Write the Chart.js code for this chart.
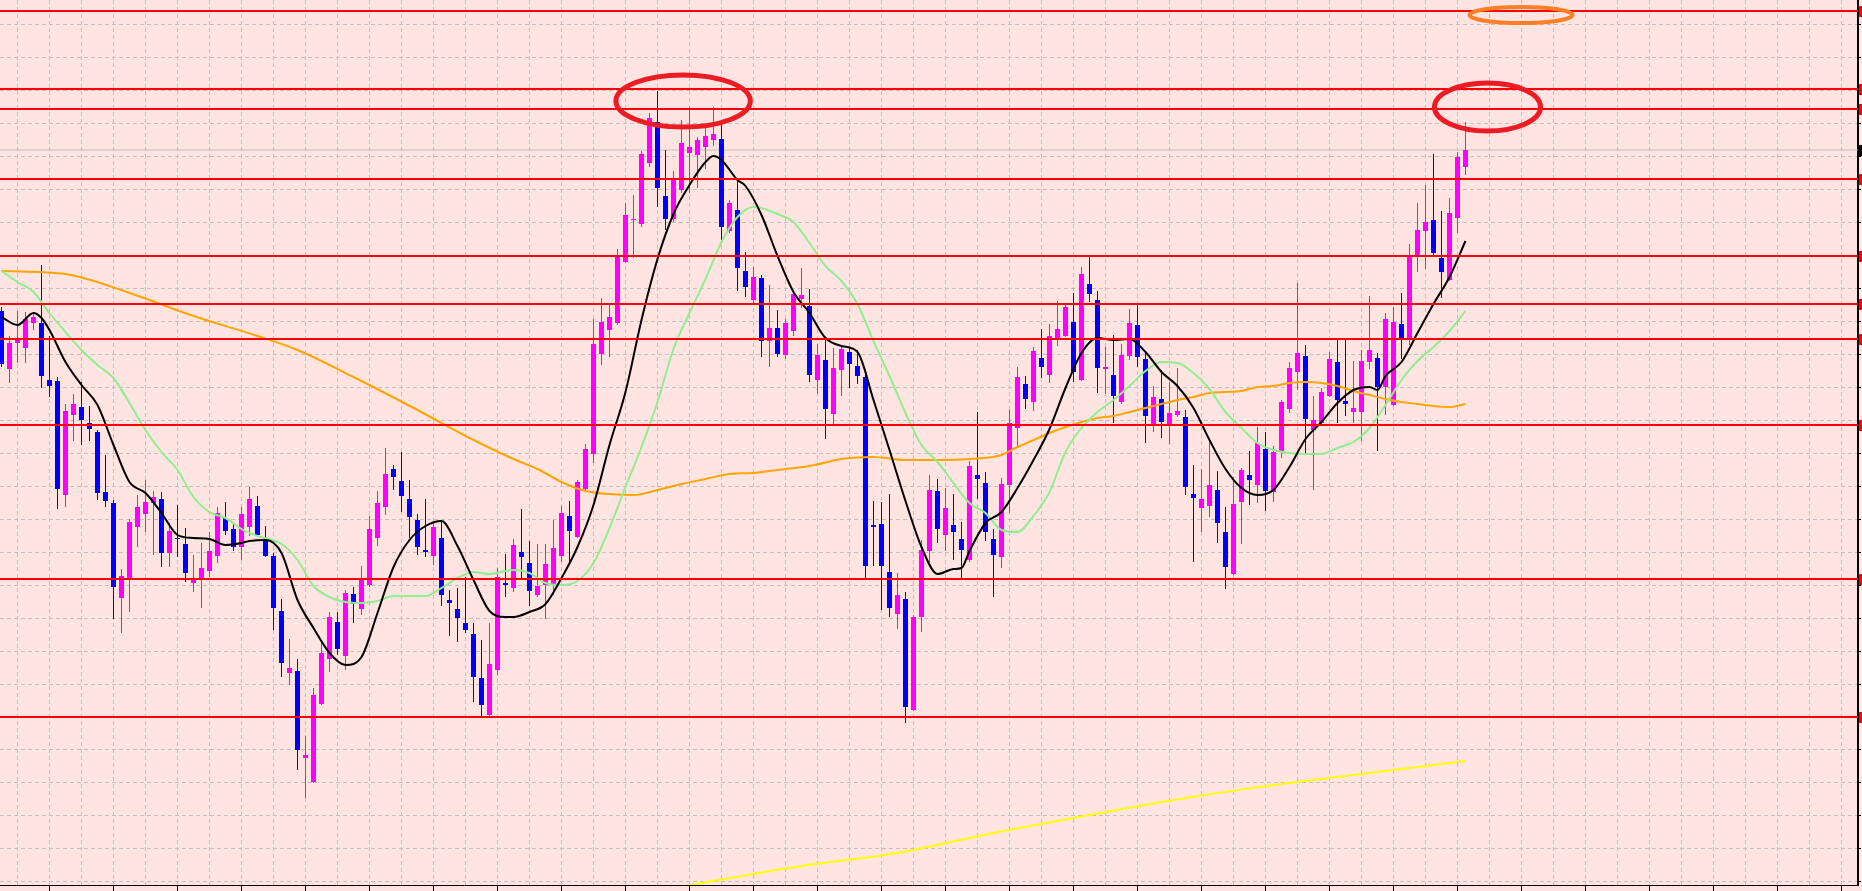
<!DOCTYPE html>
<html>
<head>
<meta charset="utf-8">
<script src="https://cdn.jsdelivr.net/npm/chart.js@4.4.1/dist/chart.umd.min.js"></script>
<style>
  html, body { margin: 0; padding: 0; background: #ffe4e1; overflow: hidden; }
  canvas { display: block; }
</style>
</head>
<body>
<canvas id="priceChart" width="1862" height="891"></canvas>
<script>
// candles, one per bar (index 0 = leftmost)
const openP = [
  156.89,156.31,156.57,156.52,156.77,156.77,156.20,156.19,155.05,155.85,
  155.93,155.77,155.68,155.08,154.97,154.02,154.21,154.73,154.86,154.97,
  155.01,154.47,154.62,154.56,154.17,154.21,154.29,154.44,154.82,154.71,
  154.53,154.73,154.94,154.60,154.44,153.89,153.27,153.29,152.42,152.18,
  152.96,153.41,153.78,153.44,154.06,153.91,154.15,154.62,154.93,155.31,
  155.19,155.01,154.80,154.50,154.44,154.62,154.00,153.91,153.77,153.66,
  153.22,152.85,153.30,154.17,154.12,154.48,154.37,154.05,154.15,154.15,
  154.44,154.84,154.63,155.11,155.46,156.46,156.70,156.77,157.38,157.80,
  157.76,158.37,158.78,158.04,157.81,158.10,158.47,158.45,158.53,158.60,
  158.61,157.69,157.90,157.29,157.00,157.22,156.59,156.72,156.45,156.69,
  157.01,156.94,156.20,156.40,155.86,156.30,156.48,156.34,156.23,154.75,
  154.76,154.28,153.86,154.01,152.90,153.83,154.49,155.09,154.65,154.75,
  154.61,154.40,155.25,155.17,154.61,154.43,155.15,155.72,156.16,155.98,
  156.42,156.25,156.62,156.64,156.78,156.20,157.16,157.00,156.31,156.25,
  155.98,156.44,156.75,156.41,155.75,156.01,155.75,155.85,155.83,155.06,
  154.92,154.94,155.10,154.68,154.26,154.98,155.25,155.15,155.51,155.08,
  155.49,155.91,156.28,156.44,155.70,155.77,156.04,156.38,155.99,155.88,
  155.88,156.38,156.42,156.13,155.95,156.76,156.60,157.44,157.69,157.80,
  157.42,157.20,157.82,158.33
];
const highP = [
  156.93,156.64,156.89,156.88,156.87,157.35,156.64,156.23,155.96,156.06,
  156.18,155.94,155.70,155.45,155.00,154.31,154.81,155.05,155.20,155.09,
  155.08,154.77,154.95,154.72,154.45,154.57,154.68,154.93,154.98,154.77,
  154.93,155.13,155.04,154.74,154.47,154.01,153.61,153.41,152.64,153.12,
  153.60,153.88,153.88,154.10,154.13,154.34,154.84,155.09,155.52,155.35,
  155.48,155.20,154.86,155.01,154.77,154.79,154.10,154.12,154.23,153.77,
  153.60,153.77,154.32,154.46,154.61,154.91,154.59,154.56,154.56,154.80,
  154.94,154.99,155.20,155.56,156.81,157.02,156.95,157.51,157.97,158.05,
  158.49,158.87,159.09,158.50,158.29,158.80,158.93,158.63,158.72,158.93,
  158.75,158.00,158.20,157.48,157.33,157.25,157.15,156.90,156.81,157.08,
  157.32,157.11,156.56,156.60,156.52,156.53,156.53,156.50,156.31,154.99,
  154.98,155.06,154.27,154.08,153.85,154.60,155.25,155.21,155.12,155.06,
  154.78,155.39,155.88,155.28,154.71,155.22,155.90,156.33,156.24,156.53,
  156.71,156.76,156.99,156.97,157.07,157.33,157.43,157.09,156.53,156.65,
  156.56,156.91,156.97,156.47,156.14,156.30,156.18,156.32,155.90,155.35,
  155.31,155.60,155.29,154.93,155.23,155.32,155.49,155.73,155.68,155.54,
  156.00,156.38,157.17,156.55,156.04,156.12,156.48,156.61,156.61,156.39,
  156.50,157.04,156.47,156.87,156.93,157.07,157.56,157.97,158.15,158.46,
  157.89,158.02,158.48,158.78
];
const lowP = [
  156.33,156.17,156.37,156.37,156.70,156.12,156.03,154.91,154.93,155.59,
  155.55,155.59,155.00,154.93,153.81,153.67,153.88,154.53,154.68,154.45,
  154.33,154.33,154.43,154.18,154.08,153.92,154.23,154.37,154.65,154.49,
  154.40,154.64,154.63,154.43,153.70,153.23,153.15,152.30,152.02,152.17,
  152.95,153.28,153.45,153.30,153.77,153.85,154.13,154.54,154.85,155.10,
  154.88,154.62,154.45,154.43,154.35,153.94,153.64,153.58,153.67,152.98,
  152.83,152.83,153.25,154.03,154.08,154.21,153.94,154.03,153.81,154.05,
  154.38,154.38,154.62,155.08,155.37,156.35,156.43,156.75,157.37,157.42,
  157.73,158.33,157.93,157.70,157.78,158.07,158.07,158.12,158.31,158.54,
  157.60,157.67,157.09,157.03,156.96,156.43,156.33,156.43,156.41,156.64,
  156.92,156.18,156.06,155.61,155.75,156.04,156.12,156.16,154.21,154.34,
  153.90,153.83,153.71,152.77,152.89,153.68,154.38,154.57,154.49,154.40,
  154.21,154.38,155.01,154.59,154.03,154.32,154.87,155.53,155.91,155.89,
  156.22,156.17,156.54,156.63,156.18,156.19,156.98,156.07,156.06,155.77,
  155.96,156.40,156.33,155.57,155.68,155.62,155.56,155.83,155.05,154.38,
  154.68,154.83,154.57,154.11,154.25,154.56,154.95,154.97,154.89,154.98,
  155.42,155.87,156.10,155.47,155.10,155.75,156.03,155.77,155.84,155.77,
  155.59,156.31,155.49,155.85,155.94,156.41,156.55,157.28,157.31,157.43,
  157.02,157.19,157.67,158.25
];
const closeP = [
  156.36,156.57,156.61,156.81,156.83,156.24,156.14,155.11,155.89,155.96,
  155.80,155.71,155.07,154.99,154.13,154.24,154.78,154.93,154.98,155.03,
  154.47,154.69,154.61,154.27,154.22,154.32,154.49,154.87,154.69,154.53,
  154.86,155.01,154.65,154.44,153.92,153.37,153.32,152.50,152.45,153.05,
  153.47,153.83,153.51,154.07,153.96,154.20,154.71,154.97,155.26,155.23,
  155.04,154.83,154.53,154.48,154.73,154.05,153.97,153.82,153.70,153.23,
  152.95,153.36,154.23,154.15,154.55,154.43,154.09,154.14,154.36,154.52,
  154.87,154.69,155.18,155.51,156.56,156.78,156.83,157.43,157.85,157.81,
  158.46,158.82,158.12,157.81,158.20,158.57,158.53,158.60,158.64,158.66,
  157.73,157.97,157.32,157.13,157.23,156.59,156.72,156.46,156.77,157.06,
  157.05,156.25,156.45,155.91,156.32,156.51,156.36,156.24,154.34,154.73,
  154.34,153.92,154.05,152.93,153.83,154.50,155.10,154.71,154.92,154.68,
  154.50,155.34,155.21,154.68,154.45,155.16,155.77,156.23,156.01,156.49,
  156.33,156.64,156.71,156.93,156.28,157.26,157.06,156.32,156.33,156.04,
  156.45,156.77,156.43,155.84,156.03,155.78,155.87,155.89,155.13,155.02,
  155.01,155.15,154.77,154.33,154.96,155.30,155.20,155.57,155.09,155.48,
  155.98,156.32,156.47,155.81,155.80,156.08,156.41,156.00,155.96,155.92,
  156.39,156.50,156.13,156.81,156.78,156.62,157.43,157.70,157.78,157.47,
  157.28,157.87,158.43,158.50
];

// moving averages, read at the bars listed in the *At arrays
const fastAt = [0,2,4,5,6,8,10,12,14,16,18,20,22,24,26,28,30,31,33,35,37,39,41,43,45,47,49,51,53,55,57,59,61,63,64,66,68,70,72,74,76,78,80,82,84,86,88,89,90,92,93,95,97,99,101,103,105,107,109,111,113,115,117,119,120,121,123,125,127,129,131,133,135,137,139,141,143,145,147,149,151,153,155,157,159,161,163,165,167,169,171,172,173,175,177,179,181,183];
const fastMa = [156.83,156.75,156.87,156.82,156.70,156.38,156.15,155.95,155.55,155.18,155.07,154.87,154.65,154.62,154.61,154.55,154.57,154.59,154.60,154.47,154.00,153.72,153.47,153.35,153.43,153.87,154.33,154.60,154.74,154.79,154.54,154.20,153.89,153.83,153.83,153.88,153.96,154.22,154.53,154.95,155.55,156.08,156.80,157.41,157.86,158.15,158.38,158.44,158.40,158.20,158.14,157.85,157.44,157.08,156.87,156.62,156.54,156.48,156.00,155.50,154.99,154.53,154.26,154.31,154.32,154.49,154.77,154.88,155.12,155.40,155.71,156.12,156.47,156.62,156.60,156.61,156.48,156.28,156.14,155.92,155.60,155.31,155.12,155.05,155.10,155.33,155.61,155.78,155.97,156.10,156.13,156.10,156.24,156.38,156.67,156.96,157.23,157.59];

const slowAt = [0,2,4,6,8,10,12,14,16,18,20,22,24,26,28,30,32,35,37,39,41,43,45,47,49,51,53,55,57,59,61,63,64,66,68,70,72,74,76,78,80,82,84,86,88,90,92,94,95,97,99,101,103,105,107,109,111,113,115,117,119,121,123,125,127,129,131,133,135,137,139,141,143,145,147,149,151,153,155,157,159,161,163,165,167,169,171,173,175,177,179,181,183];
const slowMa = [157.29,157.18,157.08,156.87,156.68,156.50,156.35,156.22,155.97,155.70,155.48,155.30,155.03,154.88,154.82,154.71,154.64,154.56,154.40,154.14,154.03,153.98,153.97,153.99,154.04,154.04,154.04,154.12,154.22,154.28,154.26,154.29,154.30,154.27,154.17,154.15,154.19,154.37,154.72,155.13,155.53,155.98,156.51,156.87,157.21,157.58,157.83,157.93,157.92,157.86,157.78,157.57,157.34,157.19,156.96,156.59,156.24,155.87,155.55,155.38,155.17,154.97,154.87,154.70,154.68,154.84,155.08,155.48,155.72,155.88,156.00,156.14,156.29,156.38,156.37,156.27,156.11,155.88,155.72,155.57,155.50,155.47,155.46,155.46,155.52,155.58,155.72,155.95,156.20,156.39,156.53,156.69,156.89];

const longAt = [0,8,16,24,32,37,44,52,59,64,67,70,73,76,79,82,85,88,91,94,97,101,105,109,113,117,121,125,127,129,131,133,135,137,139,141,143,145,147,149,151,153,155,157,159,161,163,165,167,169,171,173,175,177,179,181,183];
const longMa = [157.29,157.26,157.07,156.84,156.64,156.50,156.23,155.90,155.60,155.41,155.31,155.18,155.09,155.06,155.05,155.10,155.16,155.21,155.26,155.27,155.30,155.34,155.41,155.43,155.40,155.40,155.41,155.45,155.53,155.60,155.67,155.73,155.78,155.82,155.84,155.88,155.92,155.96,156.00,156.03,156.07,156.08,156.09,156.13,156.14,156.17,156.18,156.17,156.14,156.09,156.05,156.01,155.98,155.96,155.94,155.93,155.96];

const trendAt = [84,100,112,124,136,148,160,172,183];
const trendMa = [151.12,151.34,151.47,151.67,151.85,152.02,152.16,152.28,152.39];

// horizontal levels drawn on the chart
const levels = [159.89,159.11,158.91,158.21,157.44,156.96,156.61,155.75,154.21,152.83];
const lastPrice = 158.50;

// hand drawn rings: centre bar, centre price, half width (bars), half height (price)
const rings = [
  { x: 85.2, y: 158.99, rx: 8.4, ry: 0.261, color: '#ed1c24', w: 5 },
  { x: 185.75, y: 158.93, rx: 6.63, ry: 0.24, color: '#ed1c24', w: 5 },
  { x: 189.94, y: 159.85, rx: 6.44, ry: 0.08, color: '#ff7f27', w: 4 }
];

const xMin = -0.1875, xMax = 232.0625;
const yMin = 151.15, yMax = 160.00;
const gridBase = 151.181, gridStep = 0.3298;

const bull = '#ff00ff', bear = '#0000ff';
const candleColor = closeP.map((c, i) => c >= openP[i] ? bull : bear);
const pts = (xs, ys) => xs.map((x, i) => ({ x: x, y: ys[i] }));

const xGrid = [];
for (let i = 2; i <= xMax; i += 4) xGrid.push(i);
const yGrid = [];
for (let k = 0; k <= 26; k++) yGrid.push(gridBase + k * gridStep);

const bgPlugin = {
  id: 'bg',
  beforeDraw(chart) {
    const c = chart.ctx;
    c.save();
    c.fillStyle = '#ffe4e1';
    c.fillRect(0, 0, chart.width, chart.height);
    c.restore();
  }
};

const ringPlugin = {
  id: 'rings',
  afterDatasetsDraw(chart) {
    const c = chart.ctx, x = chart.scales.x, y = chart.scales.y;
    rings.forEach(r => {
      const cx = x.getPixelForValue(r.x), cy = y.getPixelForValue(r.y);
      const rx = x.getPixelForValue(r.x + r.rx) - cx;
      const ry = cy - y.getPixelForValue(r.y + r.ry);
      c.save();
      c.beginPath();
      c.ellipse(cx, cy, rx, ry, 0, 0, Math.PI * 2);
      c.strokeStyle = r.color;
      c.lineWidth = r.w;
      c.stroke();
      c.restore();
    });
  }
};

// price tags on the right axis (only their left edge shows)
const tagPlugin = {
  id: 'tags',
  afterDraw(chart) {
    const c = chart.ctx, y = chart.scales.y;
    const left = y.left + 1;
    c.save();
    levels.forEach(v => {
      c.fillStyle = '#ff0000';
      c.fillRect(left, Math.round(y.getPixelForValue(v)) - 5, chart.width - left, 11);
    });
    c.fillStyle = '#000000';
    c.fillRect(left, Math.round(y.getPixelForValue(lastPrice)) - 5, chart.width - left, 11);
    c.restore();
  }
};

const datasets = [];
levels.forEach(v => {
  datasets.push({
    type: 'line', data: [{ x: xMin, y: v }, { x: xMax, y: v }],
    borderColor: '#ff0000', borderWidth: 2, pointRadius: 0, order: 0
  });
});
datasets.push({
  type: 'line', data: pts(fastAt, fastMa), borderColor: '#000000', borderWidth: 2,
  pointRadius: 0, cubicInterpolationMode: 'monotone', order: 1
});
datasets.push({
  type: 'line', data: pts(slowAt, slowMa), borderColor: '#90ee90', borderWidth: 2,
  pointRadius: 0, cubicInterpolationMode: 'monotone', order: 1
});
datasets.push({
  type: 'line', data: pts(longAt, longMa), borderColor: '#ffa500', borderWidth: 2,
  pointRadius: 0, cubicInterpolationMode: 'monotone', order: 1
});
datasets.push({
  type: 'line', data: pts(trendAt, trendMa), borderColor: '#ffff00', borderWidth: 2,
  pointRadius: 0, cubicInterpolationMode: 'monotone', order: 1, clip: 0
});
datasets.push({
  type: 'bar', data: closeP.map((c, i) => ({ x: i, y: [openP[i], c] })),
  backgroundColor: candleColor, barThickness: 5, minBarLength: 1,
  grouped: false, inflateAmount: 0, borderWidth: 0, order: 2
});
datasets.push({
  type: 'bar', data: highP.map((h, i) => ({ x: i, y: [lowP[i], h] })),
  backgroundColor: candleColor, barThickness: 1,
  grouped: false, inflateAmount: 0, borderWidth: 0, order: 3
});
datasets.push({
  type: 'line', data: [{ x: xMin, y: lastPrice }, { x: xMax, y: lastPrice }],
  borderColor: '#c0c0c0', borderWidth: 1, pointRadius: 0, order: 4
});

new Chart(document.getElementById('priceChart'), {
  type: 'bar',
  data: { datasets: datasets },
  options: {
    responsive: false,
    animation: false,
    events: [],
    layout: { padding: 0 },
    plugins: { legend: { display: false }, tooltip: { enabled: false } },
    scales: {
      x: {
        type: 'linear', min: xMin, max: xMax, offset: false,
        afterBuildTicks: s => { s.ticks = xGrid.map(v => ({ value: v })); },
        afterFit: s => { s.height = 6; },
        ticks: { display: false },
        grid: {
          offset: false, color: '#c0c0c0', lineWidth: 1,
          drawTicks: true, tickLength: 6, tickWidth: 1,
          tickColor: ctx => (ctx.tick && (ctx.tick.value - 6) % 8 === 0) ? '#000000' : 'rgba(0,0,0,0)'
        },
        border: { display: true, color: '#000000', width: 1, dash: [4, 3] }
      },
      y: {
        type: 'linear', position: 'right', min: yMin, max: yMax,
        afterBuildTicks: s => { s.ticks = yGrid.map(v => ({ value: v })); },
        afterFit: s => { s.width = 4; },
        ticks: { display: false },
        grid: {
          color: '#c0c0c0', lineWidth: 1,
          drawTicks: true, tickLength: 3, tickWidth: 1, tickColor: '#000000'
        },
        border: { display: true, color: '#000000', width: 2, dash: [4, 3] }
      }
    }
  },
  plugins: [bgPlugin, ringPlugin, tagPlugin]
});
</script>
</body>
</html>
